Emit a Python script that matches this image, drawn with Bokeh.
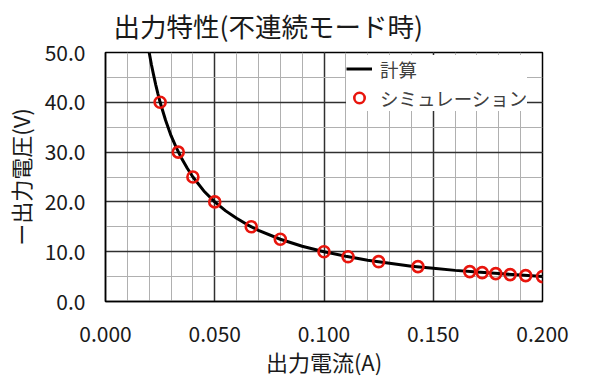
from bokeh.plotting import figure
from bokeh.models import Range1d, SingleIntervalTicker, NumeralTickFormatter, Legend, LegendItem, Title
from bokeh.embed import file_html
from bokeh.resources import INLINE

# Calculated curve
calc_i = [0.020, 0.021, 0.022, 0.023, 0.024, 0.025, 0.0275, 0.030, 0.0325, 0.035, 0.0375,
          0.040, 0.045, 0.050, 0.055, 0.060, 0.065, 0.070, 0.080, 0.090, 0.100, 0.110,
          0.120, 0.130, 0.140, 0.150, 0.160, 0.170, 0.180, 0.190, 0.200]
calc_v = [50.0, 47.6, 45.5, 43.5, 41.7, 40.0, 36.4, 33.3, 30.8, 28.6, 26.7,
          25.0, 22.2, 20.0, 18.2, 16.7, 15.4, 14.3, 12.5, 11.1, 10.0, 9.1,
          8.3, 7.7, 7.1, 6.7, 6.25, 5.9, 5.6, 5.3, 5.0]

# Simulation points
sim_i = [0.025, 0.0333, 0.040, 0.050, 0.0667, 0.080, 0.100, 0.111, 0.125, 0.143,
         0.1667, 0.1724, 0.1786, 0.1852, 0.1923, 0.200]
sim_v = [40.0, 30.0, 25.0, 20.0, 15.0, 12.5, 10.0, 9.0, 8.0, 7.0,
         6.0, 5.8, 5.6, 5.4, 5.2, 5.0]

title_text = "出力特性(不連続モード時)"
x_label = "出力電流(A)"
y_label = "ー出力電圧(V)"
legend_calc = "計算"
legend_sim = "シミュレーション"

FONT = "Noto Sans CJK JP"

p = figure(frame_width=437, frame_height=249, output_backend="svg", toolbar_location=None,
           x_range=Range1d(0, 0.2), y_range=Range1d(0, 50),
           min_border_left=98, min_border_right=30, min_border_top=45, min_border_bottom=70)
p.title = None
t = Title(text=title_text, text_font=FONT, text_font_size="26.5px", text_font_style="normal",
          text_color="#1a1a1a", align="left", offset=8, standoff=11, vertical_align="top")
p.add_layout(t, "above")

p.xaxis.ticker = SingleIntervalTicker(interval=0.05, num_minor_ticks=5)
p.yaxis.ticker = SingleIntervalTicker(interval=10, num_minor_ticks=2)
p.xaxis.formatter = NumeralTickFormatter(format="0.000")
p.yaxis.formatter = NumeralTickFormatter(format="0.0")

for ax in (p.xaxis[0], p.yaxis[0]):
    ax.major_tick_line_color = None
    ax.minor_tick_line_color = None
    ax.axis_line_color = "black"
    ax.axis_line_width = 1.5
    ax.major_label_text_font = FONT
    ax.major_label_text_font_size = "21px"
    ax.major_label_text_color = "#1a1a1a"
    ax.axis_label_text_font = FONT
    ax.axis_label_text_font_size = "22px"
    ax.axis_label_text_font_style = "normal"
    ax.axis_label_text_color = "#1a1a1a"

p.xaxis.axis_label = x_label
p.yaxis.axis_label = y_label
p.xaxis.major_label_standoff = 18
p.yaxis.major_label_standoff = 14
p.xaxis.axis_label_standoff = 0
p.yaxis.axis_label_standoff = 6

p.xgrid.grid_line_color = "#303030"
p.ygrid.grid_line_color = "#303030"
p.xgrid.grid_line_width = 1.5
p.ygrid.grid_line_width = 1.5
p.xgrid.minor_grid_line_color = "#b0b0b0"
p.ygrid.minor_grid_line_color = "#b0b0b0"
p.xgrid.minor_grid_line_width = 1
p.ygrid.minor_grid_line_width = 1
p.grid.level = "underlay"

p.outline_line_color = "black"
p.outline_line_width = 1.5
p.background_fill_color = "white"
p.border_fill_color = "white"

r_line = p.line(calc_i, calc_v, line_color="black", line_width=3)
r_pts = p.scatter(sim_i, sim_v, marker="circle", size=11, fill_color="white", fill_alpha=0,
                  line_color="#e8150d", line_width=2.6)

legend = Legend(items=[LegendItem(label=legend_calc, renderers=[r_line]),
                       LegendItem(label=legend_sim, renderers=[r_pts])],
                location=(241, 190))
legend.label_text_font = FONT
legend.label_text_font_size = "18.5px"
legend.label_text_color = "#404040"
legend.glyph_width = 26
legend.glyph_height = 27
legend.label_standoff = 8
legend.spacing = 2
legend.padding = 5
legend.margin = 0
legend.border_line_color = None
legend.background_fill_color = "white"
legend.background_fill_alpha = 1.0
p.add_layout(legend, "center")

open("out.html", "w").write(file_html(p, INLINE))
